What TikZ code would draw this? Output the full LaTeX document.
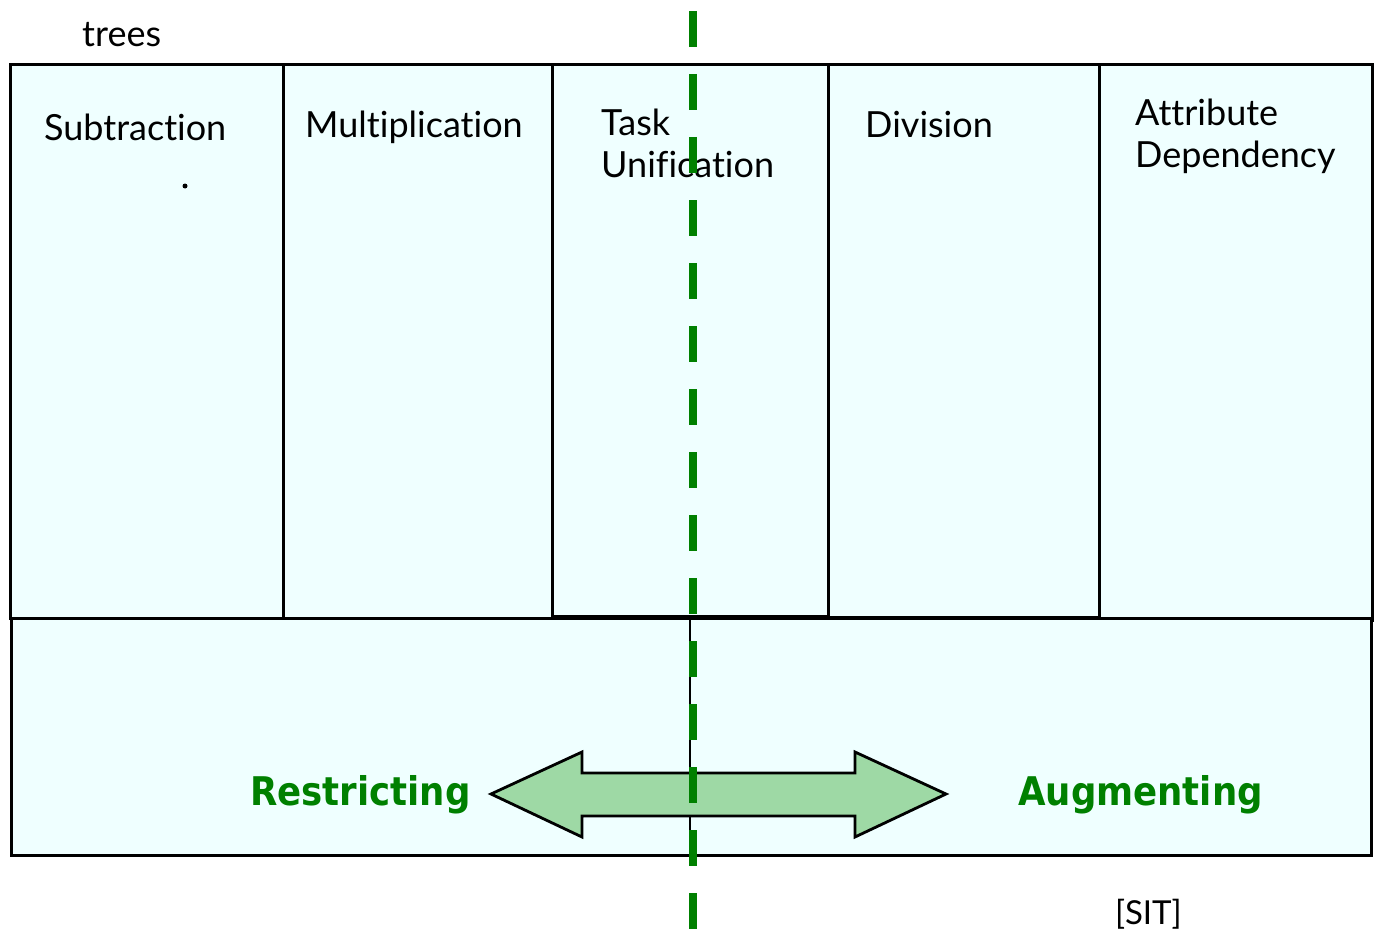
\documentclass[tikz,border=0pt]{standalone}
\usepackage{fontspec}
\setmainfont{Lato}[Ligatures={NoCommon}]
\newfontfamily\boldfam{DejaVu Sans Condensed}[BoldFont={DejaVu Sans Condensed Bold}]
\definecolor{boxfill}{HTML}{EFFFFF}
\definecolor{arrowfill}{HTML}{9ED9A5}
\definecolor{dgreen}{HTML}{008000}
\begin{document}
\begin{tikzpicture}[x=1pt,y=-1pt,
  box/.style={draw=black, line width=2.8pt, fill=boxfill, rectangle, inner sep=0pt, anchor=north west},
  lbl/.style={anchor=base west, inner sep=0pt, font=\fontsize{36}{41.5}\selectfont, align=left},
  smalllbl/.style={anchor=base west, inner sep=0pt, font=\fontsize{33}{40}\selectfont},
  blbl/.style={anchor=base west, inner sep=0pt, text=dgreen, font=\boldfam\bfseries\fontsize{39.5}{45}\selectfont}]
\useasboundingbox (0,0) rectangle (1378,931);
% top boxes
\node[box, minimum width=273pt, minimum height=554pt] (b1) at (9,63) {};
\node[box, minimum width=269pt, minimum height=554pt] (b2) at (282,63) {};
\node[box, minimum width=276pt, minimum height=552pt] (b3) at (551,63) {};
\node[box, minimum width=271pt, minimum height=553pt] (b4) at (827,63) {};
\node[box, minimum width=273pt, minimum height=556pt] (b5) at (1098,63) {};
% bottom box
\node[box, minimum width=1360pt, minimum height=237pt] (bb) at (10,617) {};
% divider in bottom box
\coordinate (dtop) at (690,617);
\coordinate (dbot) at (690,854);
\draw[line width=2.8pt] (dtop) -- (dbot);
% double arrow
\draw[line width=2.8pt, fill=arrowfill, line join=miter]
  (491,794) -- (582,752) -- (582,773) -- (855,773) -- (855,752) -- (946,794)
  -- (855,837) -- (855,816) -- (582,816) -- (582,837) -- cycle;
% labels
\node[lbl] (t0) at (82,47) {trees};
\node[lbl] (t1) at (44,140) {Subtraction};
\node[lbl] (t2) at (305,138) {Multiplication};
\node[lbl] (t3) at (601,177) {Task\\Unification};
\node[lbl] (t4) at (865,137) {Division};
\node[lbl] (t5) at (1135,167) {Attribute\\Dependency};
\fill (185,186) circle (2.5pt);
\node[blbl] (r) at (250,805) {Restricting};
\node[blbl] (a) at (1018,805) {Augmenting};
\node[smalllbl] (sit) at (1115,924) {[SIT]};
% green dashed line
\coordinate (gtop) at (693,11);
\coordinate (gbot) at (693,931);
\draw[dgreen, line width=8pt, dash pattern=on 36pt off 27pt] (gtop) -- (gbot);
\end{tikzpicture}
\end{document}
